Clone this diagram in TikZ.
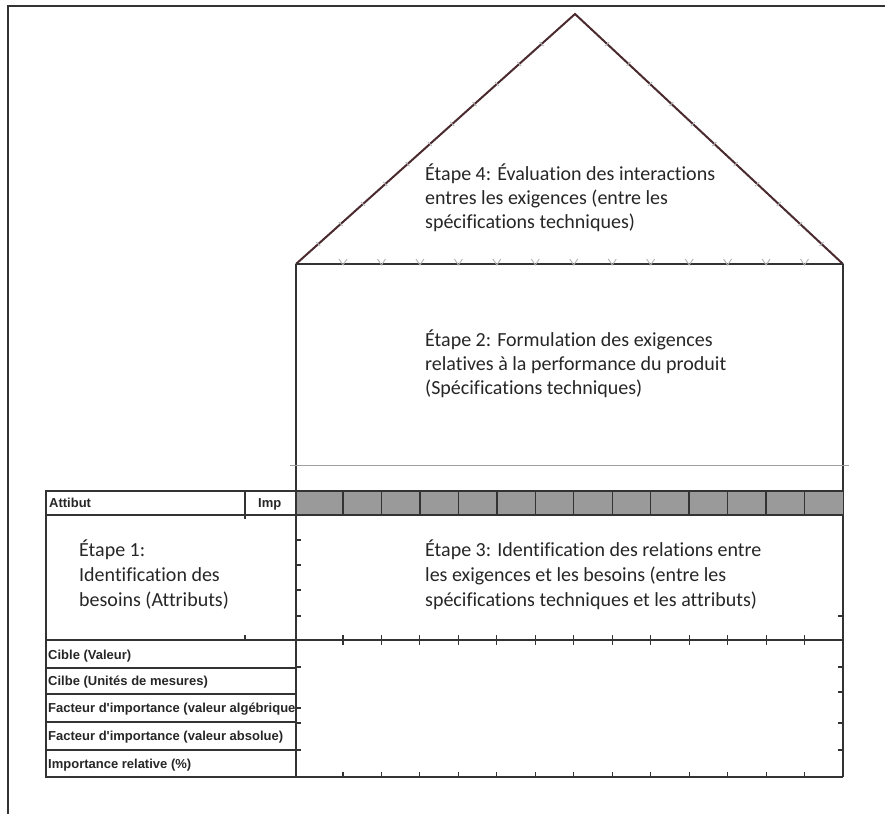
\documentclass[tikz,border=0pt]{standalone}
\usepackage{fontspec}
\usetikzlibrary{calc}
\setmainfont{Carlito}[Ligatures=NoCommon]
\newfontfamily\labfont{Liberation Sans}
\definecolor{ln}{HTML}{333333}
\definecolor{roofc}{HTML}{4A2A2E}
\definecolor{bandc}{HTML}{9A9A9A}
\begin{document}
\begin{tikzpicture}[x=1pt,y=-1pt,
  frame/.style={draw=ln, line width=2.2pt},
  gridline/.style={draw=ln, line width=1.9pt},
  roofline/.style={draw=roofc, line width=2pt},
  faint/.style={draw=gray!60, line width=0.9pt},
  tickline/.style={draw=ln, line width=1.1pt},
  big/.style={font=\fontsize{20}{24.4}\selectfont, text=black!85, inner sep=0, anchor=base west},
  lab/.style={font=\labfont\bfseries\fontsize{13}{15}\selectfont, text=black!85, inner sep=0, anchor=base west}]
\useasboundingbox (0,0) rectangle (885,814);
% outer frame
\draw[frame] (885,6) -- (8,6) -- (8,814);
% roof
\coordinate (rl) at (296,264);
\coordinate (rt) at (575,14);
\coordinate (rr) at (843,264);
\draw[roofline] (rl) -- (rt) -- (rr);
\foreach \t in {0.08,0.16,...,0.93} {
  \draw[faint] ($(rl)!\t!(rt)$) ++(2,2) -- ++(-4,-4);
  \draw[faint] ($(rr)!\t!(rt)$) ++(-2,2) -- ++(4,-4);
}
% main column
\draw[gridline] (rl) -- (rr);
\draw[gridline] (296,264) -- (296,777);
\draw[gridline] (843,264) -- (843,777);
\draw[faint, draw=gray!75] (290,465) -- (849,465);
% grey band
\fill[bandc] (296,491) rectangle (843,515);
\draw[gridline] (296,491) -- (843,491);
\draw[gridline] (296,515) -- (843,515);
\foreach \k in {0,...,12} {
  \pgfmathsetmacro{\xx}{343+38.46*\k}
  \draw[tickline, line width=1.4pt] (\xx,491) -- (\xx,515);
  \draw[faint] (\xx-4,259) -- (\xx,265) -- (\xx+4,259);
  \draw[tickline] (\xx,635) -- (\xx,645);
  \draw[tickline] (\xx,772) -- (\xx,777);
}
\draw[gridline] (296,640) -- (843,640);
\draw[gridline] (296,777) -- (843,777);
% side ticks
\foreach \y in {540,565,590,616,667,708,723,750} {
  \draw[tickline] (296,\y) -- (301,\y);
}
\foreach \y in {616,667,692,723,750} {
  \draw[tickline] (843,\y) -- (838,\y);
}
% left table
\draw[gridline] (46,491) rectangle (296,777);
\foreach \y in {515,640,668,694,722,750} {
  \draw[gridline] (46,\y) -- (296,\y);
}
\draw[gridline] (245,491) -- (245,519);
\draw[tickline] (245,635) -- (245,640);
% small labels
\node[lab] (attr) at (49,507) {Attibut};
\node[lab] (imp) at (258,507) {Imp};
\node[lab] (cib1) at (48,659) {Cible (Valeur)};
\node[lab] (cib2) at (48,685) {Cilbe (Unités de mesures)};
\begin{scope}
\clip (46,694) rectangle (295,722);
\node[lab] (fac1) at (48,712) {Facteur d'importance (valeur algébrique)};
\end{scope}
\node[lab] (fac2) at (48,740) {Facteur d'importance (valeur absolue)};
\node[lab] (impr) at (48,768) {Importance relative (\%)};
% big texts
\node[big] (e4a) at (425,180) {Étape 4: Évaluation des interactions};
\node[big] (e4b) at (425,204) {entres les exigences (entre les};
\node[big] (e4c) at (425,228) {spécifications techniques)};
\node[big] (e2a) at (425,346) {Étape 2: Formulation des exigences};
\node[big] (e2b) at (425,370) {relatives à la performance du produit};
\node[big] (e2c) at (425,394) {(Spécifications techniques)};
\node[big] (e3a) at (425,556) {Étape 3: Identification des relations entre};
\node[big] (e3b) at (425,581) {les exigences et les besoins (entre les};
\node[big] (e3c) at (425,606) {spécifications techniques et les attributs)};
\node[big] (e1a) at (79,556) {Étape 1:};
\node[big] (e1b) at (79,581) {Identification des};
\node[big] (e1c) at (79,606) {besoins (Attributs)};
\end{tikzpicture}
\end{document}
